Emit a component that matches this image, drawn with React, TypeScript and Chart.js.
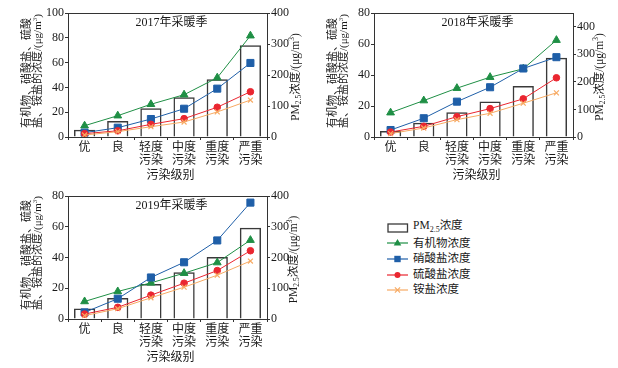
import React, { useEffect, useRef } from "react";
import { Chart, registerables } from "chart.js";
Chart.register(...registerables);

const FONT = "'Liberation Serif', 'Noto Sans CJK SC', serif";

const categories: (string | string[])[] = ["优", "良", ["轻度", "污染"], ["中度", "污染"], ["重度", "污染"], ["严重", "污染"]];

const pm2017 = [23.5, 52, 93, 128, 186, 296];
const org2017 = [9.1, 17.2, 26.4, 34.1, 47.8, 81.7];
const nit2017 = [3.5, 7.5, 14.5, 22.8, 39, 59.7];
const sul2017 = [2.7, 5, 10.2, 14.8, 24, 36.5];
const amm2017 = [1.6, 4.3, 8.3, 12.1, 20.2, 29.8];

const pm2018 = [21.7, 51.6, 90, 129, 185, 288];
const org2018 = [15.7, 23.5, 31.5, 38.6, 44, 62.5];
const nit2018 = [4.5, 12.1, 22.8, 32.1, 44.2, 51.5];
const sul2018 = [3.2, 6.9, 13.1, 18.3, 24.6, 38.2];
const amm2018 = [2.2, 5.8, 11.2, 15.3, 21.8, 28.5];

const pm2019 = [34.5, 68, 114, 152, 202, 297];
const org2019 = [11.4, 17.9, 23.5, 29.8, 36.7, 51.3];
const nit2019 = [4.3, 13.2, 27, 36.9, 51.1, 75.7];
const sul2019 = [3.2, 7.6, 15.5, 23.3, 31.5, 44.4];
const amm2019 = [2.2, 6.7, 13.8, 20.7, 28.5, 37.7];

const seriesNames = ["PM2.5浓度", "有机物浓度", "硝酸盐浓度", "硫酸盐浓度", "铵盐浓度"];
const GREEN = "#1f8f45";
const BLUE = "#1f5fa8";
const RED = "#ea2630";
const ORANGE = "#f7aa63";
const AXIS = "#333333";
const TEXT = "#1a1a1a";

type Seg = { t: string; s?: "sup" | "sub" };

function drawRich(ctx: CanvasRenderingContext2D, segs: Seg[], x: number, y: number, size: number, align: "left" | "center") {
  const widths = segs.map((s) => {
    ctx.font = `${s.s ? size * 0.65 : size}px ${FONT}`;
    return ctx.measureText(s.t).width;
  });
  const total = widths.reduce((a, b) => a + b, 0);
  let cx = align === "center" ? x - total / 2 : x;
  ctx.textAlign = "left";
  ctx.textBaseline = "middle";
  segs.forEach((s, i) => {
    ctx.font = `${s.s ? size * 0.65 : size}px ${FONT}`;
    const dy = s.s === "sup" ? -size * 0.32 : s.s === "sub" ? size * 0.28 : 0;
    ctx.fillText(s.t, cx, y + dy);
    cx += widths[i];
  });
}

type PanelCfg = {
  title: string;
  pm: number[];
  org: number[];
  nit: number[];
  sul: number[];
  amm: number[];
  leftMax: number;
  leftStep: number;
  rightMax: number;
  x: number;
  y: number;
  w: number;
  h: number;
  areaLeft: number;
  areaRight: number;
  areaTop: number;
  areaBottom: number;
  rightTitleX: number;
};

function Panel({ cfg }: { cfg: PanelCfg }) {
  const ref = useRef<HTMLCanvasElement>(null);
  useEffect(() => {
    const deco = {
      id: "deco",
      afterDraw(chart: any) {
        const ctx: CanvasRenderingContext2D = chart.ctx;
        const a = chart.chartArea;
        ctx.save();
        ctx.strokeStyle = AXIS;
        ctx.lineWidth = 1;
        ctx.beginPath();
        ctx.moveTo(Math.round(a.left) - 0.5, Math.round(a.top) + 0.5);
        ctx.lineTo(Math.round(a.right) + 0.5, Math.round(a.top) + 0.5);
        ctx.stroke();
        ctx.fillStyle = TEXT;
        const cx = (a.left + a.right) / 2;
        drawRich(ctx, [{ t: cfg.title }], cx + 4, a.top + 9.5, 12, "center");
        drawRich(ctx, [{ t: "污染级别" }], cx + 3, a.bottom + 39, 12, "center");
        // left title
        ctx.save();
        ctx.translate(27, a.bottom - 9);
        ctx.rotate(-Math.PI / 2);
        drawRich(ctx, [{ t: "有机物、硝酸盐、硫酸" }], 0, 0, 11, "left");
        ctx.restore();
        ctx.save();
        ctx.translate(38.5, a.bottom - 9);
        ctx.rotate(-Math.PI / 2);
        drawRich(ctx, [{ t: "盐、铵盐的浓度/(μg/m" }, { t: "3", s: "sup" }, { t: ")" }], 0, 0, 11, "left");
        ctx.restore();
        // right title
        ctx.save();
        ctx.translate(cfg.rightTitleX, (a.top + a.bottom) / 2 + 2);
        ctx.rotate(-Math.PI / 2);
        drawRich(ctx, [{ t: "PM" }, { t: "2.5", s: "sub" }, { t: "浓度/(μg/m" }, { t: "3", s: "sup" }, { t: ")" }], 0, 0, 11.5, "center");
        ctx.restore();
        ctx.restore();
      },
    };
    const lineDs = (label: string, data: number[], color: string, style: any, r: number) => ({
      type: "line" as const,
      label,
      data,
      yAxisID: "y",
      borderColor: color,
      backgroundColor: color,
      borderWidth: 1,
      pointStyle: style,
      pointRadius: r,
      pointBorderWidth: style === "crossRot" ? 1.2 : 1,
      tension: 0,
      order: 1,
    });
    const chart = new Chart(ref.current!, {
      type: "bar",
      data: {
        labels: categories,
        datasets: [
          {
            type: "bar",
            label: seriesNames[0],
            data: cfg.pm,
            yAxisID: "y1",
            backgroundColor: "rgba(255,255,255,0)",
            borderColor: "#3a3a3a",
            borderWidth: 1.5,
            barPercentage: 0.64,
            categoryPercentage: 1,
            order: 10,
          } as any,
          lineDs(seriesNames[4], cfg.amm, ORANGE, "crossRot", 3.5),
          lineDs(seriesNames[3], cfg.sul, RED, "circle", 3.3),
          lineDs(seriesNames[2], cfg.nit, BLUE, "rect", 5),
          lineDs(seriesNames[1], cfg.org, GREEN, "triangle", 4.5),
        ],
      },
      options: {
        responsive: false,
        animation: false,
        devicePixelRatio: 1,
        layout: { padding: { top: cfg.areaTop, left: 0, right: 0, bottom: 0 } },
        plugins: { legend: { display: false }, tooltip: { enabled: false }, title: { display: false } },
        font: { family: FONT },
        scales: {
          x: {
            offset: true,
            grid: { offset: true, drawOnChartArea: false, drawTicks: true, tickLength: 3, color: AXIS },
            border: { display: true, color: AXIS, width: 1 },
            ticks: {
              padding: 1.5,
              color: TEXT,
              maxRotation: 0,
              autoSkip: false,
              font: { family: FONT, size: 12, lineHeight: 1.1 },
            },
            afterFit: (s: any) => {
              s.height = cfg.h - cfg.areaBottom;
            },
          },
          y: {
            position: "left",
            min: 0,
            max: cfg.leftMax,
            ticks: { stepSize: cfg.leftStep, padding: 1, color: TEXT, font: { family: FONT, size: 12 } },
            grid: { drawOnChartArea: false, drawTicks: true, tickLength: 3, color: AXIS },
            border: { display: true, color: AXIS, width: 1 },
            afterFit: (s: any) => {
              s.width = cfg.areaLeft;
            },
          },
          y1: {
            position: "right",
            min: 0,
            max: cfg.rightMax,
            ticks: { stepSize: 100, includeBounds: false, padding: 1, color: TEXT, font: { family: FONT, size: 12 } },
            grid: { drawOnChartArea: false, drawTicks: true, tickLength: 3, color: AXIS },
            border: { display: true, color: AXIS, width: 1 },
            afterFit: (s: any) => {
              s.width = cfg.w - cfg.areaRight;
            },
          },
        },
      } as any,
      plugins: [deco],
    });
    return () => chart.destroy();
  }, []);
  return (
    <canvas
      ref={ref}
      width={cfg.w}
      height={cfg.h}
      style={{ position: "absolute", left: cfg.x, top: cfg.y, width: cfg.w, height: cfg.h }}
    />
  );
}

const panels: PanelCfg[] = [
  {
    title: "2017年采暖季", pm: pm2017, org: org2017, nit: nit2017, sul: sul2017, amm: amm2017,
    leftMax: 100, leftStep: 20, rightMax: 400,
    x: 0, y: 0, w: 310, h: 185, areaLeft: 68, areaRight: 267, areaTop: 13, areaBottom: 137, rightTitleX: 296,
  },
  {
    title: "2018年采暖季", pm: pm2018, org: org2018, nit: nit2018, sul: sul2018, amm: amm2018,
    leftMax: 80, leftStep: 20, rightMax: 450,
    x: 306, y: 0, w: 312, h: 185, areaLeft: 68, areaRight: 267, areaTop: 13, areaBottom: 137, rightTitleX: 294,
  },
  {
    title: "2019年采暖季", pm: pm2019, org: org2019, nit: nit2019, sul: sul2019, amm: amm2019,
    leftMax: 80, leftStep: 20, rightMax: 400,
    x: 0, y: 182, w: 310, h: 186, areaLeft: 68, areaRight: 267, areaTop: 14, areaBottom: 137, rightTitleX: 294,
  },
];

function LegendIcon({ kind, color }: { kind: string; color: string }) {
  if (kind === "box") {
    return (
      <svg width="22" height="10" style={{ display: "block" }}>
        <rect x="1" y="1" width="19.5" height="8" fill="white" stroke="#3a3a3a" strokeWidth="1.3" />
      </svg>
    );
  }
  let marker: React.ReactNode = null;
  const cx = 10.5, cy = 5;
  if (kind === "triangle") marker = <polygon points={`${cx},${cy - 4} ${cx + 3.8},${cy + 2.6} ${cx - 3.8},${cy + 2.6}`} fill={color} />;
  if (kind === "rect") marker = <rect x={cx - 3.2} y={cy - 3.2} width="6.4" height="6.4" fill={color} />;
  if (kind === "circle") marker = <circle cx={cx} cy={cy} r="3" fill={color} />;
  if (kind === "cross")
    marker = (
      <g stroke={color} strokeWidth="1.2">
        <line x1={cx - 2.6} y1={cy - 2.6} x2={cx + 2.6} y2={cy + 2.6} />
        <line x1={cx - 2.6} y1={cy + 2.6} x2={cx + 2.6} y2={cy - 2.6} />
      </g>
    );
  return (
    <svg width="22" height="10" style={{ display: "block" }}>
      <line x1="0" y1={cy} x2="21" y2={cy} stroke={color} strokeWidth="1.2" />
      {marker}
    </svg>
  );
}

function Legend() {
  const rows = [
    { kind: "box", color: "#3a3a3a", label: <span>PM<sub style={{ fontSize: 8, verticalAlign: "-3px" }}>2.5</sub>浓度</span> },
    { kind: "triangle", color: GREEN, label: <span>{seriesNames[1]}</span> },
    { kind: "rect", color: BLUE, label: <span>{seriesNames[2]}</span> },
    { kind: "circle", color: RED, label: <span>{seriesNames[3]}</span> },
    { kind: "cross", color: ORANGE, label: <span>{seriesNames[4]}</span> },
  ];
  return (
    <div style={{ position: "absolute", left: 387, top: 220, fontFamily: FONT, fontSize: 11.5, color: TEXT }}>
      {rows.map((r, i) => (
        <div key={i} style={{ display: "flex", alignItems: "center", height: 15.6, lineHeight: "15.6px" }}>
          <LegendIcon kind={r.kind} color={r.color} />
          <div style={{ marginLeft: 4, whiteSpace: "nowrap" }}>{r.label}</div>
        </div>
      ))}
    </div>
  );
}

export default function App() {
  return (
    <div style={{ position: "fixed", left: 0, top: 0, width: 618, height: 368, background: "white", overflow: "hidden" }}>
      {panels.map((p, i) => (
        <Panel key={i} cfg={p} />
      ))}
      <Legend />
    </div>
  );
}
